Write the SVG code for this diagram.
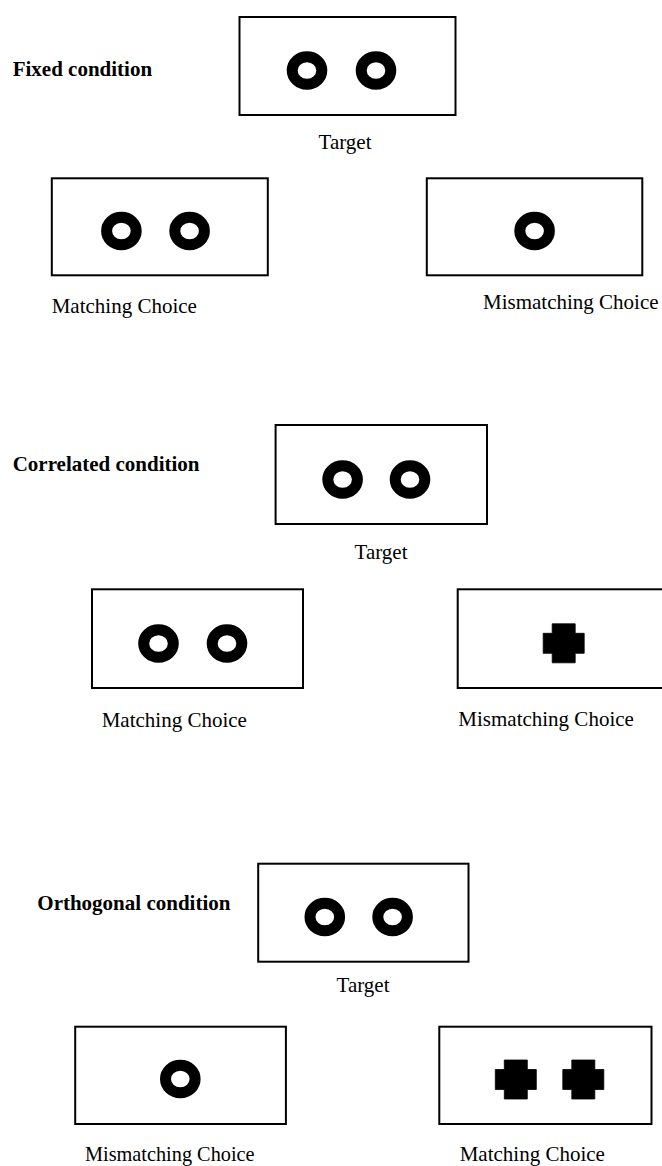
<svg xmlns="http://www.w3.org/2000/svg" xmlns:xlink="http://www.w3.org/1999/xlink" width="662" height="1166" viewBox="0 0 662 1166">
<style>
.box{fill:#fff;stroke:#000;stroke-width:2}
.lbl{font-family:"Liberation Serif","Times New Roman",serif;font-size:21px;fill:#000}
.cond{font-family:"Liberation Serif","Times New Roman",serif;font-size:21px;font-weight:bold;fill:#000}
.mid{text-anchor:middle}
</style>
<defs>
<ellipse id="ring" cx="0" cy="0" rx="14.8" ry="13.7" fill="none" stroke="#000" stroke-width="11"/>
<polygon id="cross" points="-11.5,-19.5 11.5,-19.5 11.5,-10 20.5,-10 20.5,10 11.5,10 11.5,19.5 -11.5,19.5 -11.5,10 -20.5,10 -20.5,-10 -11.5,-10" fill="#000" stroke="#000" stroke-width="0.8" stroke-linejoin="round"/>
</defs>
<rect width="662" height="1166" fill="#fff"/>

<g id="fixed">
<text class="cond" x="12.7" y="76">Fixed condition</text>
<g id="fixed-target">
<rect class="box" x="239.5" y="17" width="216" height="98"/>
<use xlink:href="#ring" x="307" y="70.5"/>
<use xlink:href="#ring" x="376" y="70.5"/>
<text class="lbl mid" x="345" y="149">Target</text>
</g>
<g id="fixed-matching">
<rect class="box" x="51.8" y="178.3" width="216" height="97"/>
<use xlink:href="#ring" x="121.4" y="231"/>
<use xlink:href="#ring" x="189.6" y="231"/>
<text class="lbl" x="51.7" y="313">Matching Choice</text>
</g>
<g id="fixed-mismatching">
<rect class="box" x="426.8" y="178.3" width="215.5" height="97"/>
<use xlink:href="#ring" x="534.6" y="231"/>
<text class="lbl" x="483" y="309">Mismatching Choice</text>
</g>
</g>

<g id="correlated">
<text class="cond" x="12.7" y="471">Correlated condition</text>
<g id="correlated-target">
<rect class="box" x="275.6" y="425" width="211.4" height="99"/>
<use xlink:href="#ring" x="342.6" y="479.5"/>
<use xlink:href="#ring" x="410" y="479.5"/>
<text class="lbl mid" x="381" y="559">Target</text>
</g>
<g id="correlated-matching">
<rect class="box" x="92" y="589.3" width="211" height="98.7"/>
<use xlink:href="#ring" x="158.5" y="643.5"/>
<use xlink:href="#ring" x="227" y="643.5"/>
<text class="lbl" x="101.7" y="726.7">Matching Choice</text>
</g>
<g id="correlated-mismatching">
<rect class="box" x="457.7" y="589.3" width="220" height="98.7"/>
<use xlink:href="#cross" x="563.7" y="643.3"/>
<text class="lbl" x="458.3" y="726">Mismatching Choice</text>
</g>
</g>

<g id="orthogonal">
<text class="cond" x="37.3" y="910">Orthogonal condition</text>
<g id="orthogonal-target">
<rect class="box" x="258.2" y="863.7" width="210.3" height="98"/>
<use xlink:href="#ring" x="324.8" y="917"/>
<use xlink:href="#ring" x="392.6" y="917"/>
<text class="lbl mid" x="363" y="991.7">Target</text>
</g>
<g id="orthogonal-mismatching">
<rect class="box" x="75.2" y="1026.7" width="210.7" height="97.3"/>
<use xlink:href="#ring" x="180.3" y="1079"/>
<text class="lbl" x="85" y="1161" style="font-size:20.3px">Mismatching Choice</text>
</g>
<g id="orthogonal-matching">
<rect class="box" x="439.3" y="1026.7" width="212.2" height="97.3"/>
<use xlink:href="#cross" x="515.8" y="1079.5"/>
<use xlink:href="#cross" x="583.3" y="1079.5"/>
<text class="lbl" x="459.7" y="1161">Matching Choice</text>
</g>
</g>

<g id="connectors"/>
</svg>
